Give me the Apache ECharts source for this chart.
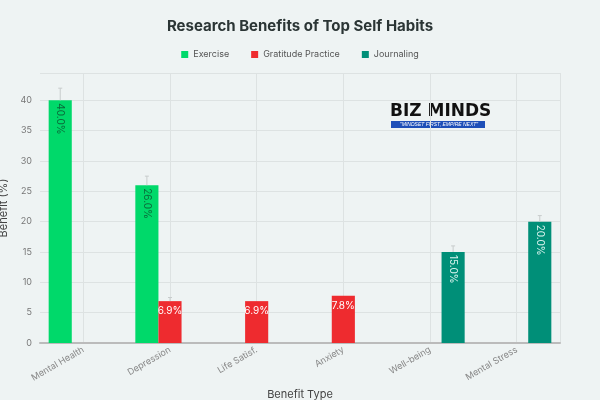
<!DOCTYPE html>
<html>
<head>
<meta charset="utf-8">
<script src="https://cdn.jsdelivr.net/npm/echarts@6/dist/echarts.min.js"></script>
<style>html,body{margin:0;padding:0;background:#eef3f3;}#container{width:600px;height:400px;}</style>
</head>
<body>
<div id="container"></div>
<script>
var categories = ['Mental Health', 'Depression', 'Life Satisf.', 'Anxiety', 'Well-being', 'Mental Stress'];
var exercise = [40, 26, null, null, null, null];
var gratitude = [null, 6.9, 6.9, 7.8, null, null];
var journaling = [null, null, null, null, 15, 20];
// error bar tops
var exerciseErr = [42, 27.5, null, null, null, null];
var gratitudeErr = [null, 7.5, null, null, null, null];
var journalingErr = [null, null, null, null, 16, 21];

var myChart = echarts.init(document.getElementById('container'));
var font = 'Inter, "Open Sans", sans-serif';
var halfSlots = [];
for (var k = 0; k < categories.length * 2; k++) halfSlots.push(String(k));

function errSeries(tops, idx) {
    var data = [];
    tops.forEach(function (t, i) { if (t != null) data.push([i, t]); });
    return {
        type: 'custom',
        silent: true,
        z: 5,
        renderItem: function (params, api) {
            var base = api.coord([api.value(0), 0]);
            var top = api.coord([api.value(0), api.value(1)]);
            var size = api.size([1, 0]);
            var x = base[0] + (idx - 1) * size[0] * 0.8 / 3;
            var y0 = api.coord([api.value(0), [exercise, gratitude, journaling][idx][api.value(0)]])[1];
            return {
                type: 'group',
                children: [
                    { type: 'line', shape: { x1: x, y1: y0, x2: x, y2: top[1] }, style: { stroke: '#c8cccc', lineWidth: 1 } },
                    { type: 'line', shape: { x1: x - 2, y1: top[1], x2: x + 2, y2: top[1] }, style: { stroke: '#c8cccc', lineWidth: 1 } }
                ]
            };
        },
        data: data
    };
}

function fmt(p) { return p.value == null ? '' : p.value.toFixed(1) + '%'; }

function label(color) {
    return {
        show: true,
        position: 'insideTop',
        distance: 3,
        rotate: -90,
        align: 'left',
        verticalAlign: 'middle',
        color: color,
        fontSize: 10,
        fontFamily: font,
        formatter: fmt
    };
}

option = {
    backgroundColor: '#eef3f3',
    textStyle: { fontFamily: font },
    title: {
        text: 'Research Benefits of Top Self Habits',
        left: 'center',
        top: 14,
        textStyle: { fontSize: 15, fontWeight: 'bold', color: '#2b3535', fontFamily: font }
    },
    legend: {
        top: 45,
        left: 'center',
        itemWidth: 7,
        itemHeight: 7,
        itemGap: 22,
        icon: 'rect',
        textStyle: { fontSize: 9, color: '#555' },
        data: ['Exercise', 'Gratitude Practice', 'Journaling']
    },
    graphic: [
        { type: 'text', left: 390, top: 103, style: { text: 'BIZ MINDS', font: 'bold 17px "DejaVu Sans"', fill: '#111' } },
        { type: 'rect', left: 391, top: 121, shape: { width: 94, height: 7 }, style: { fill: '#1e4fb8' } },
        { type: 'text', left: 400, top: 122, style: { text: '"MINDSET FIRST, EMPIRE NEXT"', font: 'italic 5px sans-serif', fill: '#fff' } }
    ],
    grid: { left: 40, right: 40, top: 73, bottom: 57, outerBoundsMode: 'none', containLabel: false },
    xAxis: [{
        type: 'category',
        data: categories,
        name: 'Benefit Type',
        nameLocation: 'middle',
        nameGap: 30,
        nameTextStyle: { fontSize: 11, color: '#444' },
        axisTick: { show: false },
        axisLine: { lineStyle: { color: '#bbb', width: 2 } },
        axisLabel: { rotate: 30, fontSize: 9, color: '#888', margin: 6 },
        splitLine: { show: false }
    }, {
        type: 'category',
        data: halfSlots,
        position: 'bottom',
        axisLine: { show: false },
        axisTick: { show: false },
        axisLabel: { show: false },
        splitLine: { show: true, interval: function (i) { return i % 2 === 1; }, lineStyle: { color: '#dde2e2' } }
    }],
    yAxis: {
        type: 'value',
        min: 0,
        max: 44.5,
        interval: 5,
        name: 'Benefit (%)',
        nameLocation: 'middle',
        nameGap: 25,
        nameTextStyle: { fontSize: 11, color: '#444' },
        axisLabel: { fontSize: 9, color: '#777', showMaxLabel: false },
        splitLine: { lineStyle: { color: '#dde2e2' } }
    },
    series: [
        { name: 'Exercise', type: 'bar', data: exercise, barGap: 0, barCategoryGap: '20%', itemStyle: { color: '#00d96a' }, label: label('#0a6a3a') },
        { name: 'Gratitude Practice', type: 'bar', data: gratitude, itemStyle: { color: '#ee2b2f' },
          label: { show: true, position: 'insideTop', color: '#fff', fontSize: 10, formatter: fmt } },
        { name: 'Journaling', type: 'bar', data: journaling, itemStyle: { color: '#008f78' }, label: label('#d8f3ee') },
        errSeries(exerciseErr, 0),
        errSeries(gratitudeErr, 1),
        errSeries(journalingErr, 2)
    ]
};
myChart.setOption(option);
</script>
</body>
</html>
